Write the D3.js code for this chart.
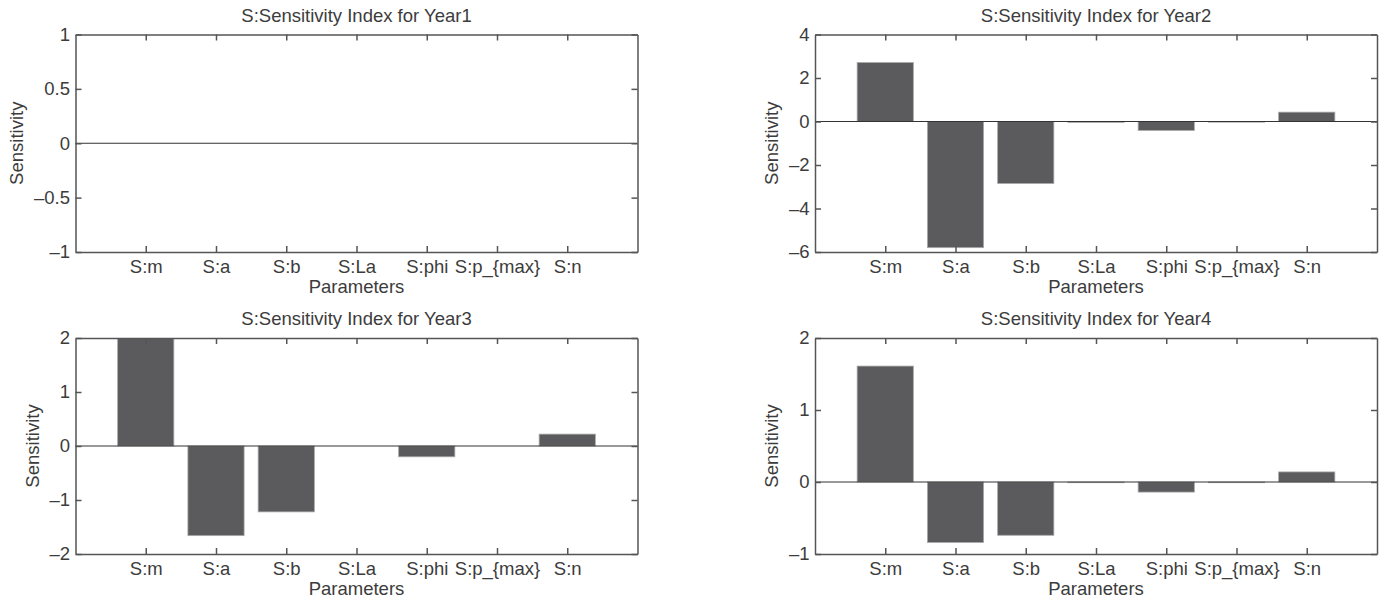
<!DOCTYPE html>
<html>
<head>
<meta charset="utf-8">
<script src="https://cdn.jsdelivr.net/npm/d3@7"></script>
<style>
  body { margin: 0; background: #fff; }
  svg text { font-family: "Liberation Sans", Arial, Helvetica, sans-serif; fill: #3c3c3c; }
</style>
</head>
<body>
<svg id="chart" width="1383" height="605"></svg>
<script>
// parameter names on the x axis
const params = ["S:m", "S:a", "S:b", "S:La", "S:phi", "S:p_{max}", "S:n"];

// sensitivity per year
const year1 = [0, 0, 0, 0, 0, 0, 0];
const year2 = [2.71, -5.8, -2.85, -0.04, -0.41, -0.03, 0.43];
const year3 = [2.0, -1.66, -1.22, 0, -0.2, 0, 0.22];
const year4 = [1.61, -0.84, -0.74, -0.01, -0.14, -0.01, 0.14];

// y ticks per panel
const ticks1 = [-1, -0.5, 0, 0.5, 1];
const ticks2 = [-6, -4, -2, 0, 2, 4];
const ticks3 = [-2, -1, 0, 1, 2];
const ticks4 = [-1, 0, 1, 2];

const titles = ["S:Sensitivity Index for Year1", "S:Sensitivity Index for Year2",
                "S:Sensitivity Index for Year3", "S:Sensitivity Index for Year4"];

const panels = [
  { values: year1, ticks: ticks1, box: { left: 75.5, top: 34.5, right: 637.5, bottom: 252 } },
  { values: year2, ticks: ticks2, box: { left: 815, top: 34.5, right: 1377, bottom: 252 } },
  { values: year3, ticks: ticks3, box: { left: 75.5, top: 338, right: 637.5, bottom: 554 } },
  { values: year4, ticks: ticks4, box: { left: 815, top: 338, right: 1377, bottom: 554 } }
];

const svg = d3.select("#chart");
const axisColor = "#555";
const fontSize = "18.5px";
const fmt = v => (v < 0 ? "\u2013" : "") + d3.format("")(Math.abs(v));

panels.forEach(function(p, i) {
  const b = p.box;
  const w = b.right - b.left, h = b.bottom - b.top;
  const g = svg.append("g").attr("transform", "translate(" + b.left + "," + b.top + ")");

  const x = d3.scaleLinear().domain([0, params.length + 1]).range([0, w]);
  const y = d3.scaleLinear().domain(d3.extent(p.ticks)).range([h, 0]);
  const xt = params.map((d, k) => k + 1);

  const clipId = "clip" + i;
  g.append("clipPath").attr("id", clipId)
    .append("rect").attr("width", w).attr("height", h);

  // bars
  const bw = x(0.8) - x(0);
  g.append("g").attr("clip-path", "url(#" + clipId + ")")
    .selectAll("rect")
    .data(p.values)
    .enter()
    .append("rect")
    .attr("x", (d, k) => x(k + 1) - bw / 2)
    .attr("y", d => y(Math.max(0, d)))
    .attr("width", bw)
    .attr("height", d => Math.abs(y(d) - y(0)))
    .style("fill", "#5b5b5d")
    .style("stroke", "#a8a8a8")
    .style("stroke-width", 0.8);

  // zero baseline
  g.append("line")
    .attr("x1", 0).attr("x2", w)
    .attr("y1", y(0)).attr("y2", y(0))
    .style("stroke", "#333").style("stroke-width", 1);

  // axes, ticks pointing inward
  g.append("g").attr("transform", "translate(0," + h + ")")
    .call(d3.axisBottom(x).tickValues(xt).tickFormat((d, k) => params[k])
      .tickSizeInner(-6).tickSizeOuter(0).tickPadding(8));
  g.append("g")
    .call(d3.axisTop(x).tickValues(xt).tickFormat("").tickSizeInner(-6).tickSizeOuter(0));
  const yl = g.append("g")
    .call(d3.axisLeft(y).tickValues(p.ticks).tickFormat(fmt)
      .tickSizeInner(-6).tickSizeOuter(0).tickPadding(5.5));
  g.append("g").attr("transform", "translate(" + w + ",0)")
    .call(d3.axisRight(y).tickValues(p.ticks).tickFormat("").tickSizeInner(-6).tickSizeOuter(0));

  g.selectAll(".domain, .tick line").style("stroke", axisColor).style("stroke-width", 1.5);
  g.selectAll(".tick text").style("font-size", fontSize).style("fill", "#3c3c3c")
    .style("font-family", "'Liberation Sans', Arial, sans-serif");

  // y label placed left of the widest tick label
  let maxW = 0;
  yl.selectAll(".tick text").each(function() { maxW = Math.max(maxW, this.getBBox().width); });
  g.append("text")
    .attr("transform", "translate(" + (-5.5 - maxW - 17) + "," + (h / 2) + ") rotate(-90)")
    .attr("text-anchor", "middle")
    .attr("dy", "0.35em")
    .style("font-size", fontSize)
    .text("Sensitivity");

  g.append("text")
    .attr("x", w / 2).attr("y", h + 35)
    .attr("text-anchor", "middle").attr("dy", "0.35em")
    .style("font-size", fontSize)
    .text("Parameters");

  g.append("text")
    .attr("x", w / 2).attr("y", -19)
    .attr("text-anchor", "middle").attr("dy", "0.35em")
    .style("font-size", fontSize)
    .text(titles[i]);
});
</script>
</body>
</html>
